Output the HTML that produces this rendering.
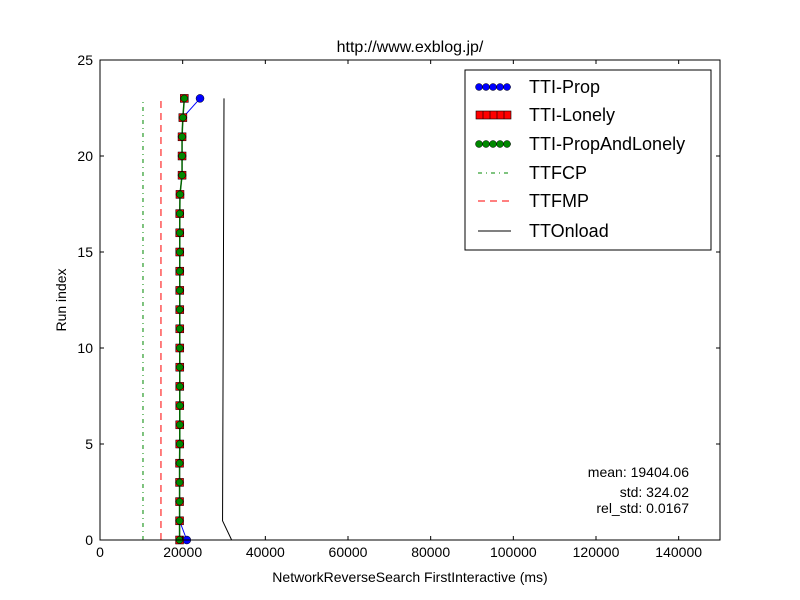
<!DOCTYPE html>
<html><head><meta charset="utf-8"><style>
body{margin:0;background:#fff}
svg{display:block;font-family:"Liberation Sans",sans-serif}
</style></head><body>
<svg id="chart" width="800" height="600" xmlns="http://www.w3.org/2000/svg">
<rect width="800" height="600" fill="#fff"/>
<text x="410" y="52" font-size="16" text-anchor="middle">http://www.exblog.jp/</text>
<g id="marks"></g>
<rect x="100" y="60" width="620" height="480" fill="none" stroke="#000"/>
<g id="axes"></g>
<text x="410" y="582" font-size="14" text-anchor="middle">NetworkReverseSearch FirstInteractive (ms)</text>
<text x="66" y="300" font-size="14" text-anchor="middle" transform="rotate(-90 66 300)">Run index</text>
<g font-size="14" text-anchor="end">
<text x="689" y="477">mean: 19404.06</text>
<text x="689" y="497">std: 324.02</text>
<text x="689" y="513">rel_std: 0.0167</text>
</g>
<g>
<rect x="465" y="70" width="246" height="180" fill="#fff" stroke="#000"/>
<g>
<line x1="476" y1="87" x2="511" y2="87" stroke="#00f"/>
<circle cx="479" cy="87" r="3.5" fill="#00f" stroke="#000" stroke-width="0.5"/><circle cx="486" cy="87" r="3.5" fill="#00f" stroke="#000" stroke-width="0.5"/><circle cx="493" cy="87" r="3.5" fill="#00f" stroke="#000" stroke-width="0.5"/><circle cx="500" cy="87" r="3.5" fill="#00f" stroke="#000" stroke-width="0.5"/><circle cx="507" cy="87" r="3.5" fill="#00f" stroke="#000" stroke-width="0.5"/>
<text x="529" y="93" font-size="18">TTI-Prop</text></g>
<g>
<rect x="476" y="111" width="35" height="8" fill="#f00" stroke="#000" stroke-width="0.6"/>
<path d="M483 111v8M490 111v8M497 111v8M504 111v8" stroke="#000" stroke-width="0.6"/>
<text x="529" y="121" font-size="18">TTI-Lonely</text></g>
<g>
<line x1="476" y1="144" x2="511" y2="144" stroke="#060"/>
<circle cx="479" cy="144" r="3.5" fill="#080" stroke="#000" stroke-width="0.5"/><circle cx="486" cy="144" r="3.5" fill="#080" stroke="#000" stroke-width="0.5"/><circle cx="493" cy="144" r="3.5" fill="#080" stroke="#000" stroke-width="0.5"/><circle cx="500" cy="144" r="3.5" fill="#080" stroke="#000" stroke-width="0.5"/><circle cx="507" cy="144" r="3.5" fill="#080" stroke="#000" stroke-width="0.5"/>
<text x="529" y="150" font-size="18">TTI-PropAndLonely</text></g>
<g>
<line x1="478" y1="173" x2="511" y2="173" stroke="#080" stroke-dasharray="4,4,1,4"/>
<text x="529" y="179" font-size="18">TTFCP</text></g>
<g>
<line x1="478" y1="201" x2="511" y2="201" stroke="#f00" stroke-dasharray="7,5"/>
<text x="529" y="207" font-size="18">TTFMP</text></g>
<g>
<line x1="478" y1="231" x2="511" y2="231" stroke="#000"/>
<text x="529" y="237" font-size="18">TTOnload</text></g>
</g>
</svg>
<script>
const runIdx=[0,1,2,3,4,5,6,7,8,9,10,11,12,13,14,15,16,17,18,19,20,21,22,23];
const ttiProp=[21000,19250,19250,19250,19250,19300,19300,19300,19300,19300,19300,19300,19300,19300,19300,19300,19300,19300,19350,19850,19850,19850,20050,24200];
const ttiLonely=[19250,19250,19250,19250,19250,19300,19300,19300,19300,19300,19300,19300,19300,19300,19300,19300,19300,19300,19350,19850,19850,19850,20050,20400];
const ttiBoth=ttiLonely.slice();
const ttfcp=[10400,10400];
const ttfmp=[14750,14750];
const onloadIdx=[0,1,23];
const onload=[31850,29650,30000];
const xTicks=[0,20000,40000,60000,80000,100000,120000,140000];
const yTicks=[0,5,10,15,20,25];
const NS="http://www.w3.org/2000/svg";
const X=v=>100+v/150000*620, Y=v=>540-v/25*480;
const marks=document.getElementById('marks'), axes=document.getElementById('axes');
function mk(tag,attrs,parent){const e=document.createElementNS(NS,tag);for(const k in attrs)e.setAttribute(k,attrs[k]);parent.appendChild(e);return e;}
function poly(xs,ys,stroke,extra,name){
  const p=mk('polyline',Object.assign({points:xs.map((x,i)=>X(x)+','+Y(ys[i])).join(' '),fill:'none',stroke:stroke},extra||{}),marks);
  
  
}
poly([ttfcp[0],ttfcp[1]],[0,23],'#080',{'stroke-dasharray':'4,4,1,4'},'ttfcp-line');
poly([ttfmp[0],ttfmp[1]],[0,23],'#f00',{'stroke-dasharray':'7,5'},'ttfmp-line');
poly(onload,onloadIdx,'#000',{},'ttonload-line');
poly(ttiProp,runIdx,'#00f',{},'tti-prop-line');
poly(ttiLonely,runIdx,'#f00',{},'tti-lonely-line');
poly(ttiBoth,runIdx,'#060',{'stroke-width':1.5},'tti-propandlonely-line');
runIdx.forEach((r,i)=>{
  const c=mk('circle',{cx:X(ttiProp[i]),cy:Y(r),r:4,fill:'#00f',stroke:'#000','stroke-width':0.5},marks);
  
  
  const s=mk('rect',{x:X(ttiLonely[i])-4,y:Y(r)-4,width:8,height:8,fill:'#f00',stroke:'#000','stroke-width':0.5},marks);
  
  
  const g=mk('circle',{cx:X(ttiBoth[i]),cy:Y(r),r:3.5,fill:'#080',stroke:'#000','stroke-width':0.5},marks);
  
  
});
xTicks.forEach(t=>{
  const x=X(t);
  mk('line',{x1:x,y1:540,x2:x,y2:536,stroke:'#000'},axes);
  mk('line',{x1:x,y1:60,x2:x,y2:64,stroke:'#000'},axes);
  const tx=mk('text',{x:x,y:557,'font-size':14,'text-anchor':'middle'},axes);
  tx.textContent=t;
  
  
});
yTicks.forEach(t=>{
  const y=Y(t);
  mk('line',{x1:100,y1:y,x2:104,y2:y,stroke:'#000'},axes);
  mk('line',{x1:720,y1:y,x2:716,y2:y,stroke:'#000'},axes);
  const tx=mk('text',{x:93,y:y+5,'font-size':14,'text-anchor':'end'},axes);
  tx.textContent=t;
  
  
});
</script>
</body></html>
